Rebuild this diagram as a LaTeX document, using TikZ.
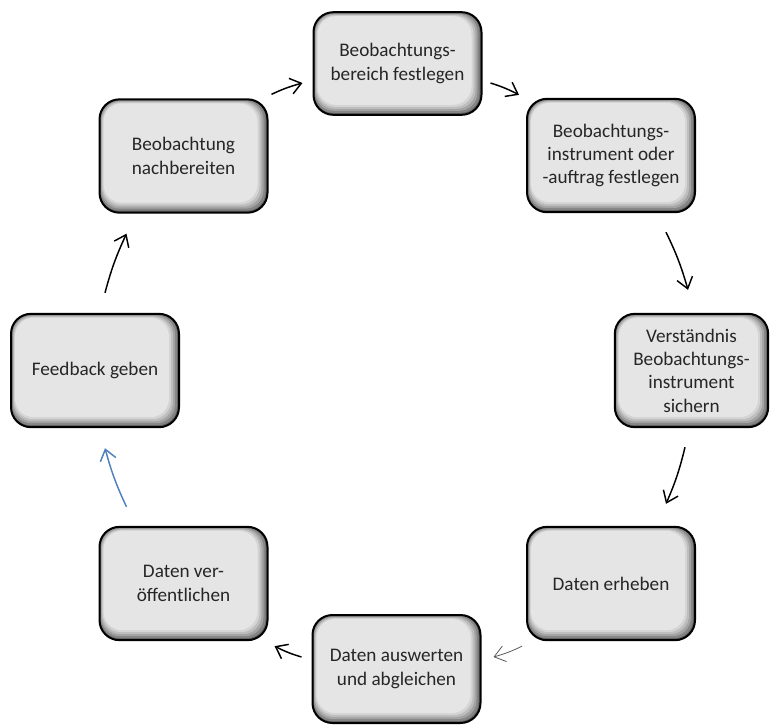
\documentclass[tikz,border=0pt]{standalone}
\usepackage{fontspec}
\setmainfont{Carlito}
\usepackage{xcolor}
\usepackage{tikz}
\usetikzlibrary{arrows.meta, bending}
\definecolor{boxgray}{HTML}{E6E6E6}
\definecolor{textgray}{HTML}{262626}
\definecolor{officeblue}{HTML}{4F81BD}
\definecolor{arrowgray}{HTML}{595959}

\tikzset{
  stagebox/.style={draw=black, line width=1.5pt, rounded corners=15pt,
    minimum width=126pt, minimum height=85pt, inner sep=2pt,
    text=textgray, align=center, font=\fontsize{14.4}{17.5}\selectfont,
    path picture={
      \foreach \k/\c in {0/62,1/48,2/36,3/26,4/17,5/10}{
        \fill[black!\c, rounded corners=14pt]
          ([xshift=\k*0.6pt, yshift=-\k*0.6pt]path picture bounding box.north west)
          rectangle ([xshift=-\k*1.5pt, yshift=\k*1.5pt]path picture bounding box.south east);
      }
    }},
  flowarrow/.style={-{Straight Barb[length=8pt,width=12pt]}, line width=1.1pt, bend left=5}
}

\begin{document}
\begin{tikzpicture}[x=0.75pt, y=-0.75pt]
  \useasboundingbox (0,0) rectangle (771,726);

  % stages of the cycle
  \node[stagebox, minimum height=77pt] (bereich) at (397.5,63.5) {Beobachtungs-\\bereich festlegen};
  \node[stagebox] (instrument) at (611,155.5) {Beobachtungs-\\instrument oder\\-auftrag festlegen};
  \node[stagebox, minimum width=115pt] (verstaendnis) at (691.5,370.5) {Verständnis\\Beobachtungs-\\instrument\\sichern};
  \node[stagebox] (erheben) at (611,583.5) {Daten erheben};
  \node[stagebox, minimum height=81pt] (auswerten) at (396.5,669) {Daten auswerten\\und abgleichen};
  \node[stagebox] (veroeffentlichen) at (183.5,583.5) {Daten ver-\\öffentlichen};
  \node[stagebox] (feedback) at (95,370.5) {Feedback geben};
  \node[stagebox] (nachbereiten) at (183.5,156) {Beobachtung\\nachbereiten};

  % arrows
  \draw[flowarrow] ([shift={(3,-4)}]nachbereiten.north east) to ([shift={(-10,19.5)}]bereich.west);
  \draw[flowarrow] ([shift={(8,19.5)}]bereich.east) to ([shift={(-7,-3)}]instrument.north west);
  \draw[flowarrow] ([shift={(-30,19)}]instrument.south east) to ([shift={(-3.5,-23)}]verstaendnis.north);
  \draw[flowarrow] ([shift={(-6.5,19)}]verstaendnis.south) to ([shift={(-30,-22)}]erheben.north east);
  \draw[flowarrow, draw=arrowgray, line width=0.6pt] ([shift={(-4,5)}]erheben.south west) to ([shift={(12,-12)}]auswerten.east);
  \draw[flowarrow] ([shift={(-10,-12)}]auswerten.west) to ([shift={(6,5)}]veroeffentlichen.south east);
  \draw[flowarrow, draw=officeblue] ([shift={(28,-19)}]veroeffentlichen.north west) to ([shift={(10,20)}]feedback.south);
  \draw[flowarrow] ([shift={(10,-20)}]feedback.north) to ([shift={(28,20)}]nachbereiten.south west);
\end{tikzpicture}
\end{document}
